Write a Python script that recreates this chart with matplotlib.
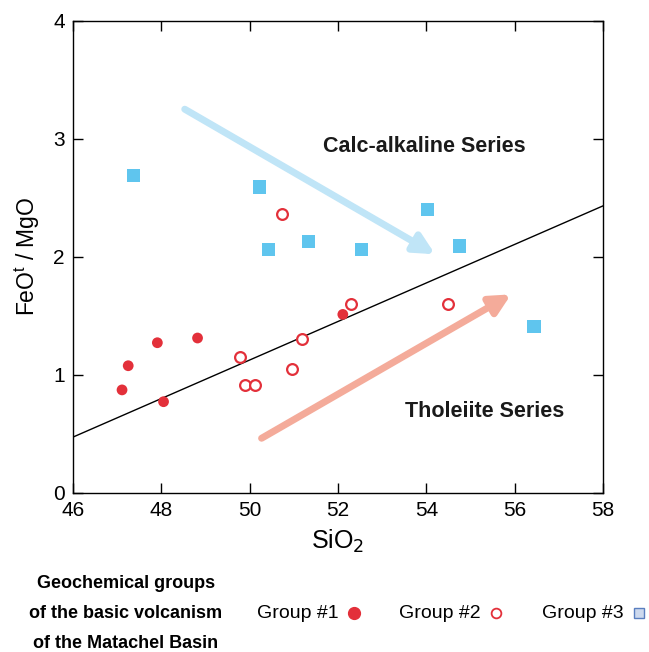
import matplotlib.pyplot as plt

plt.rcParams['font.family'] = ['Liberation Sans', 'DejaVu Sans']

# Group #1 (filled circles)
g1_sio2 = [47.11, 47.25, 47.91, 48.82, 48.05, 52.11]
g1_ratio = [0.87, 1.075, 1.27, 1.31, 0.77, 1.51]

# Group #2 (open circles)
g2_sio2 = [50.73, 49.78, 49.90, 50.13, 50.96, 51.18, 52.30, 54.50]
g2_ratio = [2.36, 1.15, 0.91, 0.91, 1.05, 1.30, 1.60, 1.60]

# Group #3 (squares)
g3_sio2 = [47.37, 50.23, 50.42, 51.33, 52.54, 54.02, 54.75, 56.44]
g3_ratio = [2.69, 2.59, 2.06, 2.13, 2.06, 2.40, 2.09, 1.41]

# Miyashiro boundary
line_x = [46, 58]
line_y = [0.47, 2.43]

# trend arrows (start, end)
ca_arrow = [(48.53, 3.25), (54.2, 2.02)]
th_arrow = [(50.27, 0.46), (55.92, 1.68)]

red = '#e3303a'
blue = '#5fc5ee'

fig = plt.figure(figsize=(6.49, 6.52), dpi=100)
ax = fig.add_axes([0.1125, 0.2446, 0.8165, 0.7236])

ax.plot(line_x, line_y, color='black', lw=1.0, zorder=2)

ax.annotate('', xy=ca_arrow[1], xytext=ca_arrow[0],
            arrowprops=dict(arrowstyle='-|>,head_length=1.2,head_width=0.6',
                            color='#c0e5f7', lw=5, shrinkA=0, shrinkB=0), zorder=1)
ax.annotate('', xy=th_arrow[1], xytext=th_arrow[0],
            arrowprops=dict(arrowstyle='-|>,head_length=1.2,head_width=0.6',
                            color='#f4ab9a', lw=5, shrinkA=0, shrinkB=0), zorder=1)

ax.scatter(g3_sio2, g3_ratio, marker='s', s=90, color=blue, edgecolors='none', zorder=3)
ax.scatter(g1_sio2, g1_ratio, marker='o', s=60, color=red, edgecolors='none', zorder=4)
ax.scatter(g2_sio2, g2_ratio, marker='o', s=60, facecolors='white', edgecolors=red,
           linewidths=1.6, zorder=4)

ax.text(53.96, 2.93, 'Calc-alkaline Series', fontsize=15.5, fontweight='bold',
        ha='center', va='center', color='#1a1a1a')
ax.text(55.33, 0.69, 'Tholeiite Series', fontsize=15.5, fontweight='bold',
        ha='center', va='center', color='#1a1a1a')

ax.set_xlim(46, 58)
ax.set_ylim(0, 4)
ax.set_xticks(range(46, 59, 2))
ax.set_yticks(range(0, 5))
ax.tick_params(direction='in', length=7, width=1, labelsize=15, top=True, right=True,
               labeltop=False, labelright=False, pad=6)
for s in ax.spines.values():
    s.set_linewidth(1.0)
ax.set_xlabel('SiO$_2$', fontsize=18, labelpad=6)
ax.set_ylabel('FeO$^\\mathregular{t}$ / MgO', fontsize=16.5, labelpad=8)

# legend block at bottom
fig.text(126 / 649, 1 - 614 / 652,
         'Geochemical groups\nof the basic volcanism\nof the Matachel Basin',
         fontsize=13, fontweight='bold', ha='center', va='center', linespacing=2.0)
ly = 1 - 613 / 652
fig.text(257 / 649, ly, 'Group #1', fontsize=14, ha='left', va='center')
fig.text(399 / 649, ly, 'Group #2', fontsize=14, ha='left', va='center')
fig.text(542 / 649, ly, 'Group #3', fontsize=14, ha='left', va='center')
lx = [354 / 649, 496 / 649, 639 / 649]
fig.lines.append(plt.Line2D([lx[0]], [ly], transform=fig.transFigure, marker='o',
                            ms=8.5, color=red, mec=red, ls='none'))
fig.lines.append(plt.Line2D([lx[1]], [ly], transform=fig.transFigure, marker='o',
                            ms=7, mfc='white', mec=red, mew=1.3, ls='none'))
fig.lines.append(plt.Line2D([lx[2]], [ly], transform=fig.transFigure, marker='s',
                            ms=7.5, mfc='#cdd9ee', mec='#5a7fc0', mew=1.0, ls='none'))

fig.savefig('out.png', dpi=100)
